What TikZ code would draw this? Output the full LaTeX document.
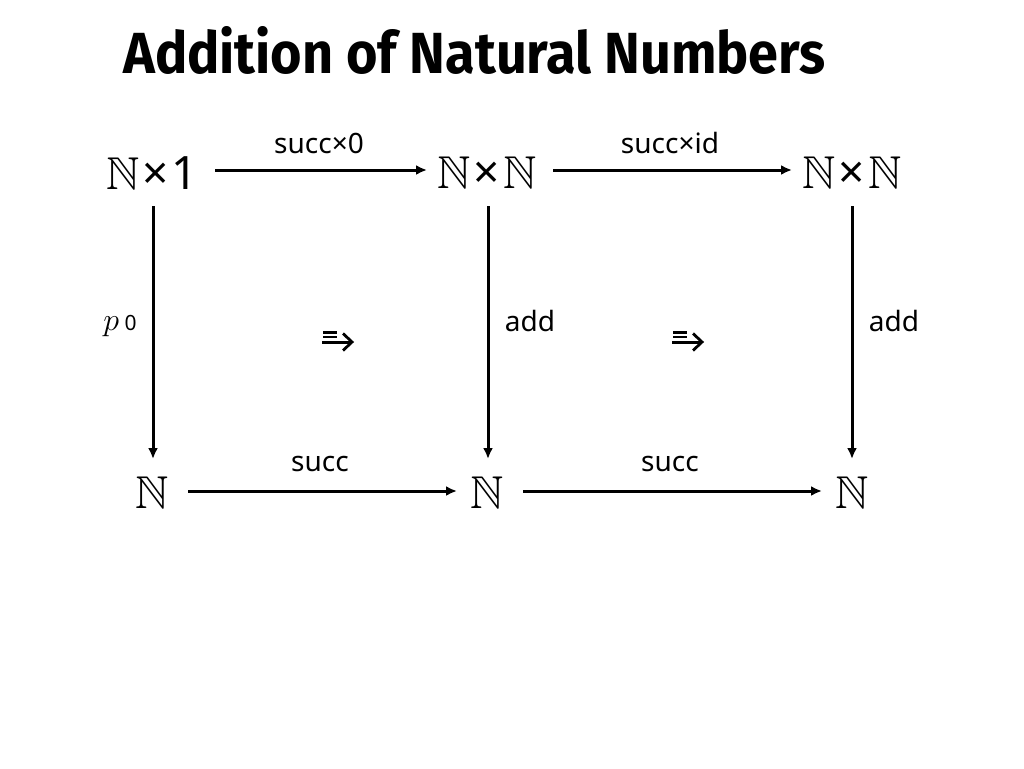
\RequirePackage{fix-cm}
\documentclass[tikz,border=0pt]{standalone}
\usepackage{amssymb}
\usepackage{fontspec}
\setmainfont{Noto Sans}
\newfontfamily\titlefont{Fira Sans Bold}[FakeStretch=0.93]
\usetikzlibrary{arrows.meta}
\tikzset{
  obj/.style={font=\fontsize{46}{48}\selectfont, inner sep=0pt},
  lab/.style={font=\fontsize{28}{30}\selectfont, inner sep=0pt},
  mor/.style={line width=3pt, -{Latex[length=11pt,width=10pt]}},
  twoline/.style={line width=2.6pt},
  twohead/.style={line width=2.8pt, line join=miter}
}
\newcommand{\tm}{\kern3pt×\kern3pt}
\begin{document}
\begin{tikzpicture}[x=1pt,y=-1pt]
\useasboundingbox (0,0) rectangle (1024,768);
\fill[white] (0,0) rectangle (1024,768);
\node[anchor=base west, inner sep=0pt, font=\titlefont\fontsize{58}{60}\selectfont] (title) at (123,73) {Addition of Natural Numbers};
% objects
\node[obj] (a) at (152,173) {$\mathbb{N}$\tm 1};
\node[obj] (b) at (487,173) {$\mathbb{N}$\tm$\mathbb{N}$};
\node[obj] (c) at (852,173) {$\mathbb{N}$\tm$\mathbb{N}$};
\node[obj] (d) at (152,493) {$\mathbb{N}$};
\node[obj] (e) at (487,493) {$\mathbb{N}$};
\node[obj] (f) at (852,493) {$\mathbb{N}$};
% coordinates for arrow ends
\coordinate (a1) at (215,170); \coordinate (b0) at (427,170);
\coordinate (b1) at (553,170); \coordinate (c0) at (792,170);
\coordinate (d1) at (188,491); \coordinate (e0) at (457,491);
\coordinate (e1) at (523,491); \coordinate (f0) at (822,491);
\coordinate (aD) at (153,206); \coordinate (dU) at (153,459);
\coordinate (bD) at (488,206); \coordinate (eU) at (488,459);
\coordinate (cD) at (852,206); \coordinate (fU) at (852,459);
\draw[mor] (a1) -- (b0);
\draw[mor] (b1) -- (c0);
\draw[mor] (d1) -- (e0);
\draw[mor] (e1) -- (f0);
\draw[mor] (aD) -- (dU);
\draw[mor] (bD) -- (eU);
\draw[mor] (cD) -- (fU);
% labels
\node[lab] (l1) at (319,143) {succ×0};
\node[lab] (l2) at (670,143) {succ×id};
\node[lab] (l3) at (320,464) {succ};
\node[lab] (l4) at (670,464) {succ};
\node[lab] (l5) at (120,326) {\fontsize{32}{32}\selectfont$p$\,\fontsize{21}{22}\selectfont 0};
\node[lab] (l6) at (530,321) {add};
\node[lab] (l7) at (894,321) {add};
% 2-cells (equals above rightwards arrow)
\foreach \cx/\nm in {338/t1, 688/t2}{
  \coordinate (\nm) at (\cx,337);
  \draw[twoline] (\nm) ++(-15,-4.5) -- ++(14,0);
  \draw[twoline] (\nm) ++(-15,0) -- ++(14,0);
  \draw[twoline, line width=3pt] (\nm) ++(-16,5) -- ++(28,0);
  \draw[twohead] (\nm) ++(5,-3.5) -- ++(9,8.5) -- ++(-9,8.5);
}
\end{tikzpicture}
\end{document}
